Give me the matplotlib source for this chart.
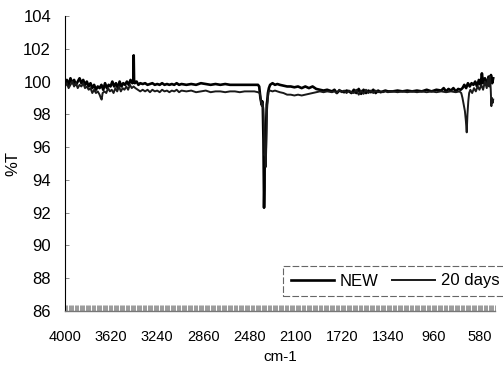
import numpy as np
import matplotlib
matplotlib.use("Agg")
import matplotlib.pyplot as plt
from matplotlib.ticker import MultipleLocator

plt.rcParams['font.family'] = ['Liberation Sans', 'DejaVu Sans']

## IR spectra: wavenumber (cm-1) -> %T

wn_new = [4000, 3985, 3970, 3955, 3940, 3925, 3910, 3895, 3880, 3865, 3850, 3835, 3820, 3805,
          3790, 3775, 3760, 3745, 3730, 3715, 3700, 3685, 3670, 3655, 3640, 3625, 3610, 3595,
          3580, 3565, 3550, 3535, 3520, 3505, 3490, 3475, 3460, 3445, 3437, 3434, 3431, 3425,
          3410, 3395, 3380, 3360, 3340, 3320, 3300, 3280, 3260, 3240, 3220, 3200, 3180, 3160,
          3140, 3120, 3100, 3080, 3060, 3040, 3000, 2960, 2920, 2880, 2840, 2800, 2760, 2720,
          2680, 2640, 2600, 2560, 2520, 2480, 2440, 2410, 2400,
          2390, 2380, 2375, 2370, 2365, 2362, 2360, 2357, 2354, 2350, 2346, 2342, 2338, 2334,
          2328, 2320, 2310, 2300, 2290, 2270, 2250, 2230, 2200, 2170, 2140, 2110, 2080, 2050,
          2020, 1990, 1960, 1930, 1900, 1870, 1840, 1800, 1780, 1760, 1740, 1720, 1700, 1680,
          1660, 1640, 1620, 1600, 1580, 1560, 1540, 1520, 1500, 1480, 1460, 1440, 1420, 1400,
          1380, 1360, 1340, 1300, 1260, 1220, 1180, 1140, 1100, 1060, 1020, 980, 940, 900,
          880, 860, 840, 820, 800, 780, 760, 740, 725, 710, 695, 680, 665, 650, 635, 620,
          605, 590, 575, 565, 555, 540, 525, 510, 500, 490, 480, 472]
t_new = [99.9, 100.1, 99.8, 100.2, 99.9, 100.1, 99.8, 100.0, 100.2, 99.9, 100.1, 99.8, 100.0, 99.7,
         99.9, 99.6, 99.8, 99.5, 99.7, 99.6, 99.8, 99.5, 99.9, 99.6, 99.8, 99.7, 100.0, 99.7,
         99.9, 99.6, 100.0, 99.7, 99.9, 99.8, 100.0, 99.8, 100.1, 99.9, 100.0, 101.6, 100.1, 99.9,
         100.0, 99.8, 99.9, 99.85, 99.9, 99.8, 99.85, 99.9, 99.8, 99.85, 99.8, 99.9, 99.8, 99.85,
         99.8, 99.85, 99.8, 99.9, 99.8, 99.85, 99.8, 99.85, 99.8, 99.9, 99.85, 99.8, 99.85, 99.8,
         99.85, 99.8, 99.8, 99.8, 99.8, 99.8, 99.8, 99.8, 99.7,
         99.0, 98.6, 98.8, 98.4, 96.5, 94.0, 92.3, 93.5, 95.5, 94.8, 96.0, 97.5, 98.6, 98.8,
         99.3, 99.6, 99.8, 99.85, 99.9, 99.8, 99.85, 99.8, 99.75, 99.7, 99.7, 99.65, 99.7, 99.6,
         99.7, 99.6, 99.7, 99.55, 99.5, 99.45, 99.5, 99.4, 99.5, 99.3, 99.45, 99.4, 99.35, 99.45,
         99.4, 99.3, 99.5, 99.3, 99.55, 99.25, 99.5, 99.3, 99.45, 99.35, 99.5, 99.3, 99.45, 99.35,
         99.4, 99.45, 99.4, 99.4, 99.45, 99.4, 99.45, 99.4, 99.45, 99.4, 99.5, 99.4, 99.5, 99.45,
         99.6, 99.4, 99.55, 99.45, 99.6, 99.4, 99.55, 99.5, 99.6, 99.8, 99.6, 99.9, 99.7, 99.9, 99.8, 100.0,
         99.7, 100.1, 99.8, 100.5, 99.9, 100.2, 99.8, 100.3, 100.0, 100.4, 99.9, 100.2]

wn_20d = [4000, 3985, 3970, 3955, 3940, 3925, 3910, 3895, 3880, 3865, 3850, 3835, 3820, 3805,
          3790, 3775, 3760, 3745, 3730, 3715, 3705, 3698, 3690, 3675, 3660, 3645, 3630, 3615,
          3600, 3585, 3570, 3555, 3540, 3525, 3510, 3495, 3480, 3465, 3450, 3435, 3420, 3400,
          3380, 3360, 3340, 3320, 3300, 3280, 3260, 3240, 3220, 3200, 3180, 3160, 3140, 3120,
          3100, 3080, 3060, 3040, 3000, 2960, 2920, 2880, 2840, 2800, 2760, 2720, 2680, 2640,
          2600, 2560, 2520, 2480, 2440, 2410, 2395,
          2385, 2378, 2372, 2366, 2360, 2355, 2350, 2346, 2342, 2336, 2330, 2322, 2310, 2290,
          2270, 2250, 2230, 2200, 2170, 2140, 2110, 2080, 2050, 2020, 1990, 1960, 1930, 1900,
          1870, 1840, 1800, 1780, 1760, 1740, 1720, 1700, 1680, 1660, 1640, 1620, 1600, 1580,
          1560, 1540, 1520, 1500, 1480, 1460, 1440, 1420, 1400, 1380, 1360, 1340, 1300, 1260,
          1220, 1180, 1140, 1100, 1060, 1020, 980, 940, 900, 860, 820, 780, 750, 735,
          725, 715, 705, 697, 690, 684, 677, 670, 660, 645, 630, 615, 600, 585,
          570, 555, 540, 525, 515, 505, 498, 492, 487, 482, 476, 472]
t_20d = [99.7, 99.9, 99.6, 99.8, 100.0, 99.7, 99.9, 99.6, 99.8, 99.7, 99.9, 99.6, 99.7, 99.5,
         99.6, 99.3, 99.5, 99.3, 99.4, 99.2, 99.0, 98.9, 99.3, 99.4, 99.3, 99.6, 99.4, 99.5,
         99.3, 99.6, 99.4, 99.7, 99.4, 99.6, 99.5, 99.7, 99.5, 99.8, 99.6, 99.7, 99.6, 99.5,
         99.4, 99.5, 99.4, 99.5, 99.35, 99.5, 99.4, 99.45, 99.35, 99.5, 99.4, 99.45, 99.35, 99.45,
         99.4, 99.5, 99.35, 99.45, 99.4, 99.45, 99.35, 99.4, 99.45, 99.35, 99.4, 99.4, 99.35, 99.4,
         99.4, 99.35, 99.4, 99.4, 99.4, 99.35, 99.3,
         98.8, 98.5, 98.7, 98.3, 97.0, 95.5, 95.8, 94.8, 96.0, 98.2, 98.9, 99.4, 99.45, 99.4,
         99.45, 99.4, 99.35, 99.3, 99.2, 99.2, 99.15, 99.2, 99.15, 99.2, 99.25, 99.3, 99.35, 99.4,
         99.35, 99.4, 99.35, 99.4, 99.3, 99.5, 99.35, 99.45, 99.3, 99.45, 99.35, 99.3, 99.5, 99.2,
         99.45, 99.25, 99.5, 99.3, 99.45, 99.3, 99.45, 99.35, 99.4, 99.35, 99.4, 99.35, 99.4, 99.35,
         99.4, 99.35, 99.4, 99.35, 99.4, 99.35, 99.4, 99.35, 99.4, 99.35, 99.4, 99.35, 99.4, 99.3,
         99.0, 98.6, 98.2, 97.6, 96.9, 98.0, 98.8, 99.3, 99.5, 99.3, 99.6, 99.4, 99.7, 99.5,
         99.8, 99.5, 100.0, 99.6, 100.2, 99.7, 100.3, 99.5, 98.5, 99.0, 98.7, 98.9]

xticks = [4000, 3620, 3240, 2860, 2480, 2100, 1720, 1340, 960, 580]
yticks = [86, 88, 90, 92, 94, 96, 98, 100, 102, 104]

fig = plt.figure(figsize=(5.03, 3.72), dpi=100)
ax = fig.add_axes([65/503, 61/372, 430/503, 295/372])

ax.plot(wn_new, t_new, color='black', lw=1.9, label='NEW')
ax.plot(wn_20d, t_20d, color='#1a1a1a', lw=1.4, label='20 days')

ax.set_xlim(4000, 457)
ax.set_ylim(86, 104)
ax.set_xticks(xticks)
ax.set_yticks(yticks)
ax.xaxis.set_minor_locator(MultipleLocator(10))

for s in ['top', 'right']:
    ax.spines[s].set_visible(False)
ax.spines['left'].set_linewidth(0.8)
ax.spines['bottom'].set_color('#777777')
ax.spines['bottom'].set_linewidth(1.0)

ax.tick_params(axis='y', direction='in', length=3, width=0.6, color='#777777',
               labelsize=12, pad=10)
ax.tick_params(axis='x', which='both', direction='in', length=4, width=0.6,
               color='#8a8a8a', labelsize=10.5, pad=14)

ax.set_ylabel('%T', fontsize=12, labelpad=2)
ax.set_xlabel('cm-1', fontsize=11, labelpad=4)

leg = ax.legend(loc='upper left', bbox_to_anchor=(283/503, 106/372),
                bbox_transform=fig.transFigure, ncol=2, fontsize=12,
                fancybox=False, framealpha=1, edgecolor='#666666',
                borderaxespad=0, borderpad=0.45, handlelength=2.6,
                handletextpad=0.35, columnspacing=0.8)
leg.get_frame().set_linewidth(0.8)
leg.get_frame().set_linestyle((0, (6, 2)))

fig.savefig('out.png', dpi=100)
